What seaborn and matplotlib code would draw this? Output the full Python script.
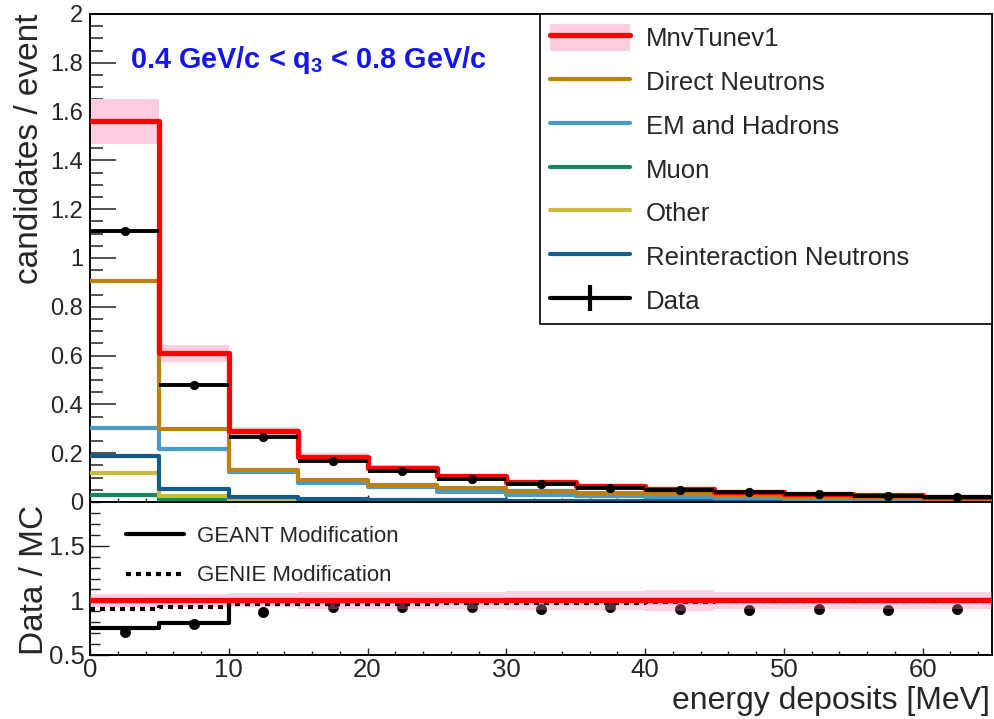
import numpy as np
import pandas as pd
import matplotlib
matplotlib.use("Agg")
import matplotlib.pyplot as plt
import seaborn as sns
from matplotlib.lines import Line2D
from matplotlib.patches import Patch
from matplotlib.ticker import MultipleLocator, FuncFormatter

# ---------------- data ----------------
bin_edges = [0, 5, 10, 15, 20, 25, 30, 35, 40, 45, 50, 55, 60, 65]

mnv_tune = [1.56, 0.61, 0.29, 0.185, 0.14, 0.105, 0.082, 0.066, 0.053, 0.042, 0.033, 0.027, 0.022]
mnv_rel_err = [0.06, 0.058, 0.065, 0.075, 0.08, 0.08, 0.085, 0.09, 0.095, 0.08, 0.08, 0.075, 0.075]
direct_neutrons = [0.905, 0.30, 0.13, 0.09, 0.07, 0.057, 0.046, 0.038, 0.031, 0.025, 0.020, 0.017, 0.014]
em_hadrons = [0.305, 0.217, 0.124, 0.077, 0.061, 0.042, 0.030, 0.025, 0.021, 0.017, 0.014, 0.012, 0.010]
muon = [0.028, 0.007, 0.003, 0.002, 0.002, 0.001, 0.001, 0.001, 0.001, 0.001, 0.001, 0.001, 0.001]
other = [0.117, 0.025, 0.005, 0.003, 0.002, 0.002, 0.002, 0.001, 0.001, 0.001, 0.001, 0.001, 0.001]
reint_neutrons = [0.19, 0.052, 0.020, 0.012, 0.009, 0.007, 0.006, 0.005, 0.004, 0.004, 0.003, 0.003, 0.002]

data_vals = [1.11, 0.48, 0.265, 0.17, 0.127, 0.096, 0.075, 0.058, 0.049, 0.041, 0.033, 0.026, 0.021]
data_err = [0.012, 0.008, 0.006, 0.005, 0.004, 0.004, 0.003, 0.003, 0.003, 0.003, 0.002, 0.002, 0.002]

ratio_vals = [0.707, 0.787, 0.89, 0.935, 0.935, 0.935, 0.917, 0.94, 0.925, 0.91, 0.925, 0.915, 0.92]
geant_mod = [0.745, 0.79, 0.995, 0.997, 0.998, 0.998, 0.999, 0.999, 1.0, 1.0, 1.0, 1.0, 1.0]
genie_mod = [0.925, 0.94, 0.963, 0.966, 0.969, 0.972, 0.975, 0.978, 0.985, 0.99, 0.993, 0.995, 0.997]

series_names = ["MnvTunev1", "Direct Neutrons", "EM and Hadrons", "Muon", "Other",
                "Reinteraction Neutrons", "Data"]
ratio_names = ["GEANT Modification", "GENIE Modification"]
x_ticks = [0, 10, 20, 30, 40, 50, 60]
ratio_ticks = [0.5, 1, 1.5]

# ---------------- styling ----------------
RED = "#FF0000"
PINK = "#FFCCE0"
BROWN = "#BD8113"
LBLUE = "#4A9AC8"
GREEN = "#14875F"
OLIVE = "#C9BC3C"
DBLUE = "#135D8C"
TXTBLUE = "#1515EE"

sns.set_theme(style="white")
plt.rcParams["font.family"] = ["Liberation Sans", "DejaVu Sans"]
plt.rcParams["mathtext.fontset"] = "custom"
plt.rcParams["mathtext.rm"] = "Liberation Sans"
plt.rcParams["mathtext.bf"] = "Liberation Sans:bold"

edges = np.array(bin_edges, dtype=float)
centers = 0.5 * (edges[:-1] + edges[1:])
half_w = 0.5 * np.diff(edges)
mc = np.array(mnv_tune)
rel = np.array(mnv_rel_err)

fig = plt.figure(figsize=(9.94, 7.19), dpi=100)
W, H = 994.0, 719.0
ax1 = fig.add_axes([90 / W, 1 - 502 / H, 902 / W, 488 / H])
ax2 = fig.add_axes([90 / W, 1 - 655 / H, 902 / W, 153 / H])


def step(ax, vals, **kw):
    df = pd.DataFrame({"x": centers, "w": np.asarray(vals, dtype=float)})
    sns.histplot(data=df, x="x", weights="w", bins=list(bin_edges), element="step",
                 fill=False, ax=ax, **kw)


# ---------------- top panel ----------------
ax1.fill_between(edges, np.append(mc * (1 - rel), mc[-1] * (1 - rel[-1])),
                 np.append(mc * (1 + rel), mc[-1] * (1 + rel[-1])),
                 step="post", color=PINK, lw=0, zorder=1)
comp = [(muon, GREEN), (other, OLIVE), (reint_neutrons, DBLUE),
        (em_hadrons, LBLUE), (direct_neutrons, BROWN)]
for vals, col in comp:
    step(ax1, vals, color=col, linewidth=3.0, zorder=3)
step(ax1, mnv_tune, color=RED, linewidth=3.8, zorder=5)

ax1.errorbar(centers, data_vals, xerr=half_w, yerr=data_err, fmt="none",
             ecolor="black", elinewidth=2.8, capsize=0, zorder=6)
sns.scatterplot(x=centers, y=data_vals, ax=ax1, color="black", s=38,
                edgecolor="black", linewidth=0.5, zorder=7, legend=False)

ax1.set_xlim(0, 65)
ax1.set_ylim(0, 2)
ax1.set_xlabel("")
ax1.set_ylabel("candidates / event", fontsize=24, loc="top")
ax1.yaxis.set_label_coords(-0.05, 1.0)
ax1.yaxis.set_major_locator(MultipleLocator(0.2))
ax1.yaxis.set_minor_locator(MultipleLocator(0.05))
ax1.yaxis.set_major_formatter(FuncFormatter(lambda v, p: f"{v:g}"))
ax1.xaxis.set_major_locator(MultipleLocator(10))
ax1.xaxis.set_minor_locator(MultipleLocator(2))
ax1.tick_params(axis="y", which="major", direction="in", length=19, width=1.1,
                labelsize=17, pad=5, left=True, color="#222222")
ax1.tick_params(axis="y", which="minor", direction="in", length=9.5, width=1.1,
                left=True, color="#222222")
ax1.tick_params(axis="x", which="both", direction="in", bottom=True,
                labelbottom=False, width=1.0, color="#222222")
ax1.tick_params(axis="x", which="major", length=5)
ax1.tick_params(axis="x", which="minor", length=3)
for s in ax1.spines.values():
    s.set_color("black")
    s.set_linewidth(1.4)

ax1.text(0.044, 0.889, r"0.4 GeV/c < q$_\mathbf{3}$ < 0.8 GeV/c",
         transform=ax1.transAxes, color=TXTBLUE, fontsize=20.8, fontweight="bold",
         va="baseline", ha="left", zorder=10)

handles = [
    (Patch(facecolor=PINK, edgecolor="none"), Line2D([], [], color=RED, lw=3.8)),
    Line2D([], [], color=BROWN, lw=3.0),
    Line2D([], [], color=LBLUE, lw=3.0),
    Line2D([], [], color=GREEN, lw=3.0),
    Line2D([], [], color=OLIVE, lw=3.0),
    Line2D([], [], color=DBLUE, lw=3.0),
    Line2D([], [], color="black", lw=3.0, marker="|", markersize=19,
           markeredgewidth=3.0),
]
leg = ax1.legend(handles, series_names, loc="upper left",
                 bbox_to_anchor=(0.499, 1.0, 0.501, 0.0), mode="expand",
                 borderaxespad=0, fontsize=18.5, frameon=True, fancybox=False,
                 edgecolor="black", framealpha=1, handlelength=3.1,
                 handleheight=1.2, handletextpad=0.62, labelspacing=0.66,
                 borderpad=0.4)
leg.get_frame().set_linewidth(1.2)
leg.set_zorder(20)

# ---------------- ratio panel ----------------
sns.scatterplot(x=centers, y=ratio_vals, ax=ax2, color="black", s=55,
                edgecolor="black", linewidth=0.5, zorder=2, legend=False)
ax2.fill_between(edges, np.append(1 - rel, 1 - rel[-1]), np.append(1 + rel, 1 + rel[-1]),
                 step="post", color="#FF80B0", alpha=0.35, lw=0, zorder=3)
step(ax2, geant_mod, color="black", linewidth=3.0, zorder=4)
step(ax2, genie_mod, color="black", linewidth=3.0, linestyle=(0, (1.2, 1.2)), zorder=4)
step(ax2, mc / mc, color=RED, linewidth=3.8, zorder=5)

ax2.set_xlim(0, 65)
ax2.set_ylim(0.5, 1.9)
ax2.set_xticks(x_ticks)
ax2.set_xticklabels([str(t) for t in x_ticks])
ax2.set_yticks(ratio_ticks)
ax2.set_yticklabels([f"{t:g}" for t in ratio_ticks])
ax2.xaxis.set_minor_locator(MultipleLocator(2))
ax2.yaxis.set_minor_locator(MultipleLocator(0.1))
ax2.tick_params(axis="both", which="both", direction="in", width=1.0, color="#222222")
ax2.tick_params(axis="x", which="major", length=5, labelsize=18.5, pad=2.5, bottom=True)
ax2.tick_params(axis="x", which="minor", length=3, bottom=True)
ax2.tick_params(axis="y", which="major", length=14, labelsize=18.5, pad=4, left=True)
ax2.tick_params(axis="y", which="minor", length=7, left=True)
for s in ax2.spines.values():
    s.set_color("black")
    s.set_linewidth(1.4)

ax2.set_ylabel("Data / MC", fontsize=24, loc="top")
ax2.yaxis.set_label_coords(-0.044, 0.98)
ax2.set_xlabel("energy deposits [MeV]", fontsize=23, loc="right")
ax2.xaxis.set_label_coords(0.998, -0.205)

rhandles = [Line2D([], [], color="black", lw=3.0),
            Line2D([], [], color="black", lw=3.0, linestyle=(0, (1.2, 1.2)))]
ax2.legend(rhandles, ratio_names, loc="upper left", bbox_to_anchor=(0.03, 0.9),
           borderaxespad=0, frameon=False, fontsize=16, handlelength=2.6,
           handletextpad=0.6, labelspacing=0.82)

fig.savefig("out.png", dpi=100)
